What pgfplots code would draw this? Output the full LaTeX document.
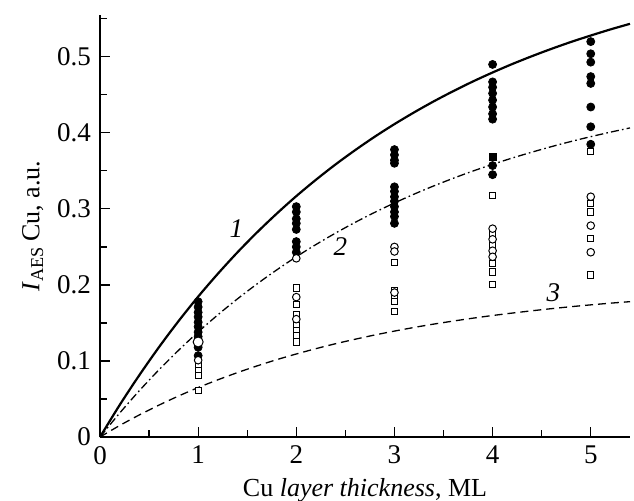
\documentclass[border=0pt]{standalone}
\usepackage{fontspec}
\setmainfont{Liberation Serif}
\usepackage{pgfplots}
\pgfplotsset{compat=1.18}
\begin{document}
\fontsize{13}{15}\selectfont
\begin{tikzpicture}
\begin{axis}[
 name=a,
 scale only axis, width=265pt, height=211pt,
 xmin=0, xmax=5.4, ymin=0, ymax=0.555,
 axis lines*=left,
 axis line style={line width=0.9pt},
 tick align=inside,
 xtick={0,1,2,3,4,5}, ytick={0,0.1,0.2,0.3,0.4,0.5},
 minor xtick={0.5,1.5,2.5,3.5,4.5},
 minor ytick={0.05,0.15,0.25,0.35,0.45,0.55},
 major tick length=5pt, minor tick length=3.5pt,
 every tick/.style={line width=0.6pt, black},
 /pgf/number format/assume math mode=true,
 yticklabel style={/pgf/number format/fixed, /pgf/number format/precision=1},
 tick label style={font=\fontsize{13.5}{15}\selectfont},
 label style={font=\fontsize{13}{15}\selectfont},
 xlabel={Cu \textit{layer thickness}, ML},
 ylabel={\textit{I}\textsubscript{AES}\,Cu, a.u.},
 xlabel style={yshift=2pt},
 ylabel style={yshift=-2pt},
 clip=false,
]
% curve 1
\addplot[black, line width=1.1pt, smooth] coordinates {
(0,0) (0.2,0.0420) (0.4,0.0812) (0.6,0.1180) (0.8,0.1524) (1.0,0.1846)
(1.2,0.2146) (1.4,0.2428) (1.6,0.2691) (1.8,0.2937) (2.0,0.3168)
(2.2,0.3383) (2.4,0.3585) (2.6,0.3773) (2.8,0.3950) (3.0,0.4115)
(3.2,0.4269) (3.4,0.4414) (3.6,0.4549) (3.8,0.4676) (4.0,0.4794)
(4.2,0.4905) (4.4,0.5008) (4.6,0.5105) (4.8,0.5196) (5.0,0.5280)
(5.2,0.5360) (5.4,0.5434)};
% curve 2
\addplot[black, line width=0.65pt, smooth, dash pattern=on 4pt off 1.6pt on 0.8pt off 1.6pt] coordinates {
(0,0) (0.2,0.0314) (0.4,0.0608) (0.6,0.0883) (0.8,0.1140) (1.0,0.1381)
(1.2,0.1606) (1.4,0.1816) (1.6,0.2013) (1.8,0.2197) (2.0,0.2370)
(2.2,0.2531) (2.4,0.2682) (2.6,0.2823) (2.8,0.2955) (3.0,0.3078)
(3.2,0.3194) (3.4,0.3302) (3.6,0.3403) (3.8,0.3498) (4.0,0.3586)
(4.2,0.3669) (4.4,0.3746) (4.6,0.3819) (4.8,0.3887) (5.0,0.3950)
(5.2,0.4009) (5.4,0.4065)};
% curve 3
\addplot[black, line width=0.65pt, smooth, dash pattern=on 4pt off 2.5pt] coordinates {
(0,0) (0.2,0.0151) (0.4,0.0290) (0.6,0.0419) (0.8,0.0539) (1.0,0.0650)
(1.2,0.0752) (1.4,0.0847) (1.6,0.0935) (1.8,0.1017) (2.0,0.1092)
(2.2,0.1162) (2.4,0.1227) (2.6,0.1286) (2.8,0.1342) (3.0,0.1393)
(3.2,0.1441) (3.4,0.1485) (3.6,0.1525) (3.8,0.1563) (4.0,0.1598)
(4.2,0.1630) (4.4,0.1660) (4.6,0.1688) (4.8,0.1714) (5.0,0.1738)
(5.2,0.1760) (5.4,0.1780)};
% filled circles
\addplot[only marks, mark=*, mark size=2pt, black] coordinates {
(1,0.178) (1,0.171) (1,0.164) (1,0.158) (1,0.151) (1,0.145) (1,0.138) (1,0.132) (1,0.118) (1,0.107)
(2,0.303) (2,0.296) (2,0.287) (2,0.281) (2,0.273) (2,0.257) (2,0.250) (2,0.243)
(3,0.378) (3,0.371) (3,0.364) (3,0.360) (3,0.329) (3,0.323) (3,0.316) (3,0.310) (3,0.303) (3,0.296) (3,0.290) (3,0.281)
(4,0.490) (4,0.467) (4,0.460) (4,0.452) (4,0.443) (4,0.434) (4,0.425) (4,0.418) (4,0.357) (4,0.345)
(5,0.520) (5,0.504) (5,0.493) (5,0.474) (5,0.465) (5,0.434) (5,0.408) (5,0.385)};
% filled square
\addplot[only marks, mark=square*, mark size=1.8pt, black] coordinates {(4,0.368)};
% open squares
\addplot[only marks, mark=square*, mark size=1.55pt, black, mark options={fill=white, line width=0.5pt}] coordinates {
(1,0.094) (1,0.088) (1,0.081) (1,0.061)
(2,0.196) (2,0.174) (2,0.161) (2,0.147) (2,0.140) (2,0.134) (2,0.125)
(3,0.229) (3,0.193) (3,0.185) (3,0.178) (3,0.165)
(4,0.318) (4,0.268) (4,0.252) (4,0.228) (4,0.217) (4,0.201)
(5,0.375) (5,0.307) (5,0.296) (5,0.261) (5,0.213)};
% open circles
\addplot[only marks, mark=*, mark size=1.9pt, black, mark options={fill=white, line width=0.5pt}] coordinates {
(1,0.101)
(2,0.235) (2,0.184) (2,0.155)
(3,0.250) (3,0.244) (3,0.190)
(4,0.274) (4,0.260) (4,0.245) (4,0.237)
(5,0.316) (5,0.278) (5,0.243)};
\addplot[only marks, mark=*, mark size=2.5pt, black, mark options={fill=white, line width=0.5pt}] coordinates {(1,0.125)};
\node[font=\itshape\fontsize{13.5}{15}\selectfont] at (axis cs:1.39,0.274) {1};
\node[font=\itshape\fontsize{13.5}{15}\selectfont] at (axis cs:2.45,0.250) {2};
\node[font=\itshape\fontsize{13.5}{15}\selectfont] at (axis cs:4.62,0.190) {3};
\end{axis}
\pgfresetboundingbox
\path ([shift={(-50pt,-31.5pt)}]a.south west) rectangle ([shift={(2pt,7.5pt)}]a.north east);
\end{tikzpicture}
\end{document}
